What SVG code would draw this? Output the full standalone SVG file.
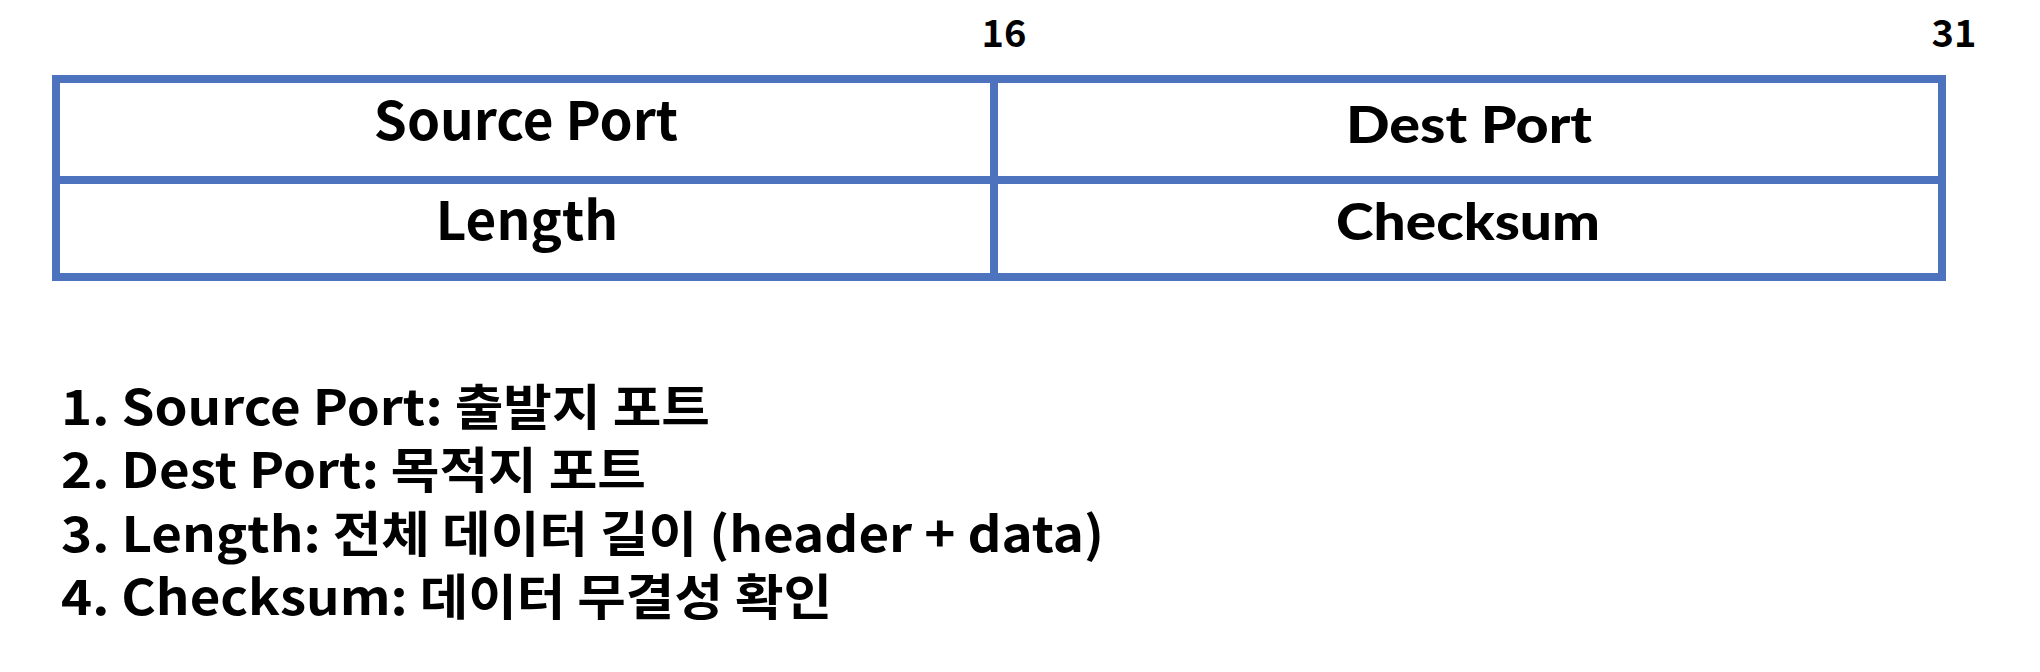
<svg xmlns="http://www.w3.org/2000/svg" width="2040" height="672" viewBox="0 0 2040 672">
<style>
.t{font-family:"Noto Sans CJK KR","Noto Sans",sans-serif;font-weight:700;fill:#000}
.g{font-family:Lato,"Noto Sans CJK KR",sans-serif;font-weight:900;fill:#000}
.b{fill:none;stroke:#4E73BE;stroke-width:8}
.l{font-size:49px}
</style>
<rect width="2040" height="672" fill="#fff"/>
<g id="bit-labels">
<text class="t" x="1004" y="47" font-size="38" text-anchor="middle">16</text>
<text class="t" x="1954" y="47" font-size="38" text-anchor="middle">31</text>
</g>
<g id="table">
<rect class="b" x="56" y="79" width="1886" height="198"/>
<line class="b" x1="56" y1="180" x2="1942" y2="180"/>
<line class="b" x1="994" y1="79" x2="994" y2="277"/>
</g>
<g id="source-port"><text class="t" x="526" y="140" font-size="53" text-anchor="middle">Source Port</text></g>
<g id="dest-port"><text class="g" x="1469" y="143" font-size="51" text-anchor="middle" textLength="246" lengthAdjust="spacingAndGlyphs">Dest Port</text></g>
<g id="length"><text class="t" x="527" y="240" font-size="53" text-anchor="middle">Length</text></g>
<g id="checksum"><text class="g" x="1468" y="240" font-size="51" text-anchor="middle" textLength="264" lengthAdjust="spacingAndGlyphs">Checksum</text></g>
<g id="legend">
<text class="t l" x="61" y="425" textLength="649" lengthAdjust="spacingAndGlyphs">1. Source Port: 출발지 포트</text>
<text class="t l" x="61" y="488" textLength="585" lengthAdjust="spacingAndGlyphs">2. Dest Port: 목적지 포트</text>
<text class="t l" x="61" y="552" textLength="1043" lengthAdjust="spacingAndGlyphs">3. Length: 전체 데이터 길이 (header + data)</text>
<text class="t l" x="61" y="615" textLength="771" lengthAdjust="spacingAndGlyphs">4. Checksum: 데이터 무결성 확인</text>
</g>
</svg>
